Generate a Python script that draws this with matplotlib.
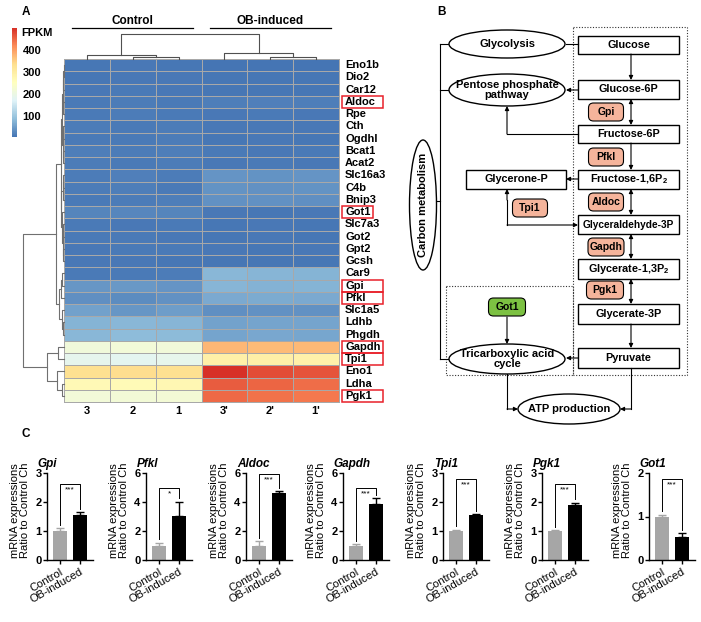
import numpy as np
import matplotlib.pyplot as plt
from matplotlib.colors import LinearSegmentedColormap
from matplotlib.patches import Rectangle, Ellipse, FancyBboxPatch

plt.rcParams['font.family'] = ['Liberation Sans', 'DejaVu Sans']
plt.rcParams['mathtext.fontset'] = 'custom'
plt.rcParams['mathtext.rm'] = 'Liberation Sans'
plt.rcParams['mathtext.bf'] = 'Liberation Sans:bold'

W, H = 701, 622
# --------------------------------------------------------------
# A: heatmap data (FPKM)
genes = ["Eno1b", "Dio2", "Car12", "Aldoc", "Rpe", "Cth", "Ogdhl", "Bcat1",
         "Acat2", "Slc16a3", "C4b", "Bnip3", "Got1", "Slc7a3", "Got2", "Gpt2",
         "Gcsh", "Car9", "Gpi", "Pfkl", "Slc1a5", "Ldhb", "Phgdh", "Gapdh",
         "Tpi1", "Eno1", "Ldha", "Pgk1"]
samples = ["3", "2", "1", "3'", "2'", "1'"]
fpkm = np.array([
    [8, 10, 9, 7, 6, 7],
    [9, 11, 10, 8, 8, 9],
    [10, 12, 11, 9, 8, 9],
    [12, 14, 13, 16, 18, 17],
    [12, 14, 13, 11, 12, 11],
    [15, 13, 14, 10, 11, 10],
    [13, 12, 14, 9, 10, 9],
    [16, 15, 16, 12, 11, 12],
    [14, 13, 15, 11, 12, 10],
    [15, 18, 14, 42, 40, 41],
    [14, 16, 13, 40, 38, 40],
    [13, 15, 16, 38, 37, 36],
    [25, 27, 24, 10, 9, 11],
    [12, 11, 13, 9, 10, 9],
    [13, 12, 11, 9, 10, 9],
    [11, 13, 12, 10, 8, 10],
    [10, 11, 9, 8, 9, 8],
    [13, 12, 14, 80, 78, 76],
    [44, 46, 42, 78, 75, 77],
    [36, 33, 38, 64, 66, 64],
    [56, 44, 52, 36, 38, 37],
    [76, 80, 78, 58, 60, 59],
    [80, 86, 84, 60, 62, 61],
    [214, 217, 215, 376, 372, 374],
    [186, 183, 188, 292, 295, 290],
    [333, 336, 334, 500, 473, 468],
    [270, 268, 273, 460, 453, 445],
    [217, 220, 222, 449, 442, 436]])
marked = ["Aldoc", "Got1", "Gpi", "Pfkl", "Gapdh", "Tpi1", "Pgk1"]

# dendrograms: (left, right, merge height)
col_tree = ((0, (1, 2, 2), 4), (3, (4, 5, 2), 6), 25)
sub_a1 = ((((0, 1, 0.5), 2, 1.0), (3, 4, 0.7), 1.5),
          ((5, 6, 0.6), (7, 8, 0.8), 1.2), 2.0)
sub_a2 = ((9, 10, 0.8), 11, 1.5)
sub_a3 = (12, ((13, 14, 0.6), (15, 16, 0.7), 1.2), 2.5)
grp_a = (sub_a1, (sub_a2, sub_a3, 2.7), 3.2)
grp_b = (((17, 18, 2.0), 19, 3.0), (20, (21, 22, 1.5), 2.5), 5.0)
grp_c = ((23, 24, 6), (25, (26, 27, 2), 7), 17)
row_tree = ((grp_a, grp_b, 8.5), grp_c, 41)

# C: qPCR data
qpcr_genes = ["Gpi", "Pfkl", "Aldoc", "Gapdh", "Tpi1", "Pgk1", "Got1"]
ctrl_mean = [1.0, 1.0, 1.0, 1.0, 1.0, 1.0, 1.0]
ctrl_err = [0.09, 0.18, 0.3, 0.07, 0.04, 0.02, 0.04]
ob_mean = [1.55, 3.05, 4.65, 3.85, 1.55, 1.9, 0.53]
ob_err = [0.09, 0.97, 0.08, 0.42, 0.02, 0.07, 0.08]
y_max = [3, 6, 6, 6, 3, 3, 2]
y_step = [1, 2, 2, 2, 1, 1, 1]
sig = ["***", "*", "***", "***", "***", "***", "***"]
sig_y = [2.62, 5.0, 5.95, 5.0, 2.8, 2.62, 1.86]
# --------------------------------------------------------------

cmap = LinearSegmentedColormap.from_list(
    "ph", ["#4575B4", "#91BFDB", "#E0F3F8", "#FFFFBF", "#FEE090", "#FC8D59", "#D73027"])

fig = plt.figure(figsize=(W / 100, H / 100), dpi=100)
ax = fig.add_axes([0, 0, 1, 1])
ax.set_xlim(0, W)
ax.set_ylim(H, 0)
ax.axis("off")

# ---------------- panel A ----------------
hx = np.linspace(64, 339, len(samples) + 1)
hy = np.linspace(59, 402, len(genes) + 1)
mesh = ax.pcolormesh(hx, hy, fpkm, cmap=cmap, vmin=fpkm.min(), vmax=fpkm.max(),
                     edgecolors="#a8a8a8", linewidth=0.6)
xc = (hx[:-1] + hx[1:]) / 2
yc = (hy[:-1] + hy[1:]) / 2


def dendro(node, leaf_pos, base, horizontal):
    if isinstance(node, int):
        return leaf_pos[node], 0
    left, right, h = node
    p1, h1 = dendro(left, leaf_pos, base, horizontal)
    p2, h2 = dendro(right, leaf_pos, base, horizontal)
    d = [base - h1, base - h, base - h, base - h2]
    p = [p1, p1, p2, p2]
    if horizontal:
        ax.plot(d, p, color="#707070", lw=0.8)
    else:
        ax.plot(p, d, color="#505050", lw=0.8)
    return (p1 + p2) / 2, h


dendro(col_tree, xc, hy[0], False)
dendro(row_tree, yc, hx[0], True)

# group brackets
ax.plot([72, 193], [28, 28], color="k", lw=0.9)
ax.plot([210, 331], [28, 28], color="k", lw=0.9)
ax.text(132, 21, "Control", ha="center", va="center", fontsize=8.5, fontweight="bold")
ax.text(270, 21, "OB-induced", ha="center", va="center", fontsize=8.5, fontweight="bold")

for x, s in zip(xc, samples):
    ax.text(x, 411, s, ha="center", va="center", fontsize=8, fontweight="bold")
for y, g in zip(yc, genes):
    ax.text(345, y, g, ha="left", va="center", fontsize=8, fontweight="bold")
    if g in marked:
        bw = 31 if g == "Got1" else 41
        ax.add_patch(Rectangle((342, y - 6), bw, 12, fill=False, ec="#e8202a", lw=1.1))

ax.text(22, 12, "A", ha="left", va="center", fontsize=8.5, fontweight="bold")
ax.text(21, 33, "FPKM", ha="left", va="center", fontsize=8, fontweight="bold")
cbax = fig.add_axes([12 / W, 1 - 137 / H, 5 / W, 109 / H])
cb = fig.colorbar(mesh, cax=cbax, ticks=[100, 200, 300, 400])
cb.outline.set_visible(False)
cbax.tick_params(length=0, pad=4, labelsize=8)
for t in cbax.get_yticklabels():
    t.set_fontweight("bold")

# ---------------- panel B ----------------
ax.text(437, 12, "B", ha="left", va="center", fontsize=8.5, fontweight="bold")
LW = 0.8


def box(x0, y0, x1, y1, text, fs=7.8):
    ax.add_patch(Rectangle((x0, y0), x1 - x0, y1 - y0, fill=False, ec="k", lw=1.0))
    ax.text((x0 + x1) / 2, (y0 + y1) / 2, text, ha="center", va="center",
            fontsize=fs, fontweight="bold")


def oval(cx, cy, w, h, text, rot=0):
    ax.add_patch(Ellipse((cx, cy), w, h, fc="white", ec="k", lw=1.0, zorder=3))
    ax.text(cx, cy, text, ha="center", va="center", fontsize=8, fontweight="bold",
            rotation=rot, linespacing=1.0, zorder=4)


def enzyme(cx, cy, w, text, fc="#f5b49b"):
    ax.add_patch(FancyBboxPatch((cx - w / 2, cy - 9), w, 18,
                                boxstyle="round,pad=0,rounding_size=5",
                                fc=fc, ec="k", lw=0.8, zorder=3))
    ax.text(cx, cy, text, ha="center", va="center", fontsize=7.5, fontweight="bold", zorder=4)


def arrow(x0, y0, x1, y1, both=False):
    ax.annotate("", xy=(x1, y1), xytext=(x0, y0),
                arrowprops=dict(arrowstyle="<|-|>" if both else "-|>", color="k",
                                lw=LW, mutation_scale=6, shrinkA=0, shrinkB=0))


def line(xs, ys):
    ax.plot(xs, ys, color="k", lw=LW)


# dotted areas
ax.add_patch(Rectangle((573, 27), 114, 348, fill=False, ec="#333333", lw=0.8, ls=(0, (1, 1.5))))
ax.add_patch(Rectangle((446, 286), 127, 89, fill=False, ec="#333333", lw=0.8, ls=(0, (1, 1.5))))

# main chain
chain = [("Glucose", 36, 54), ("Glucose-6P", 80, 99), ("Fructose-6P", 125, 143),
         (r"Fructose-1,6P$_\mathbf{2}$", 170, 189), ("Glyceraldehyde-3P", 215, 234),
         (r"Glycerate-1,3P$_\mathbf{2}$", 259, 279), ("Glycerate-3P", 304, 324),
         ("Pyruvate", 348, 368)]
for name, y0, y1 in chain:
    box(578, y0, 679, y1, name, fs=7.3 if name.startswith("Glyceral") else 7.8)
two_way = [False, True, False, True, True, True, False]
for k, both in enumerate(two_way):
    arrow(631, chain[k][2], 631, chain[k + 1][1], both)

box(466, 170, 566, 189, "Glycerone-P")

# left bracket + ovals
line([440, 440], [44, 359])
for y in (44, 90, 359):
    line([440, 450], [y, y])
line([436, 440], [201, 201])
oval(507, 44, 116, 28, "Glycolysis")
oval(507, 90, 116, 32, "Pentose phosphate\npathway")
oval(507, 359, 116, 30, "Tricarboxylic acid\ncycle")
oval(423, 205, 27, 130, "Carbon metabolism", rot=90)
oval(569, 409, 102, 30, "ATP production")

line([566, 578], [44, 44])
arrow(578, 90, 566, 90)
line([578, 507], [134, 134])
arrow(507, 134, 507, 106)
arrow(578, 179, 566, 179)
line([507, 507], [200, 225])
arrow(507, 200, 507, 189)
arrow(507, 225, 578, 225)
arrow(578, 358, 566, 358)
arrow(507, 317, 507, 344)
line([507, 507], [374, 409])
arrow(507, 409, 518, 409)
line([631, 631], [368, 409])
arrow(631, 409, 620, 409)

enzyme(606, 112, 35, "Gpi")
enzyme(606, 157, 35, "Pfkl")
enzyme(606, 202, 35, "Aldoc")
enzyme(606, 247, 36, "Gapdh")
enzyme(605, 290, 37, "Pgk1")
enzyme(530, 208, 35, "Tpi1")
enzyme(507, 307, 37, "Got1", fc="#7cc142")

# ---------------- panel C ----------------
ax.text(22, 434, "C", ha="left", va="center", fontsize=8.5, fontweight="bold")
c_left = [47, 146, 246, 343, 443, 542, 649]
for i, g in enumerate(qpcr_genes):
    a = fig.add_axes([c_left[i] / W, 1 - 560 / H, 46 / W, 87 / H])
    a.bar([0, 1], [ctrl_mean[i], ob_mean[i]], width=0.7, color=["#a6a6a6", "k"])
    a.errorbar(0, ctrl_mean[i], yerr=[[0], [ctrl_err[i]]], color="#a6a6a6",
               capsize=3, lw=1, capthick=1)
    a.errorbar(1, ob_mean[i], yerr=[[0], [ob_err[i]]], color="k",
               capsize=3, lw=1, capthick=1)
    gap = 0.04 * y_max[i]
    a.plot([0, 0, 1, 1],
           [ctrl_mean[i] + ctrl_err[i] + gap, sig_y[i], sig_y[i], ob_mean[i] + ob_err[i] + gap],
           color="k", lw=0.7)
    a.text(0.5, sig_y[i] - 0.03 * y_max[i], sig[i], ha="center", va="top", fontsize=6)
    a.set_xlim(-0.65, 1.65)
    a.set_ylim(0, y_max[i])
    a.set_yticks(np.arange(0, y_max[i] + 0.1, y_step[i]))
    a.set_xticks([0, 1])
    a.set_xticklabels(["Control", "OB-induced"], rotation=30, ha="right",
                      rotation_mode="anchor", fontsize=8)
    for side in ("top", "right"):
        a.spines[side].set_visible(False)
    for side in ("left", "bottom"):
        a.spines[side].set_linewidth(1.0)
    a.tick_params(axis="y", length=3, width=1, labelsize=8, pad=1)
    a.tick_params(axis="x", length=3, width=1, pad=2)
    for t in a.get_yticklabels():
        t.set_fontweight("bold")
    a.set_ylabel("mRNA expressions\nRatio to Control Ch", fontsize=8, linespacing=1.0)
    a.yaxis.set_label_coords(-0.38, 0.57)
    a.text(-0.2, 1.07, g, transform=a.transAxes, ha="left", va="baseline",
           fontsize=8.5, fontweight="bold", fontstyle="italic")
    a.patch.set_alpha(0)

fig.savefig("out.png", dpi=100)
